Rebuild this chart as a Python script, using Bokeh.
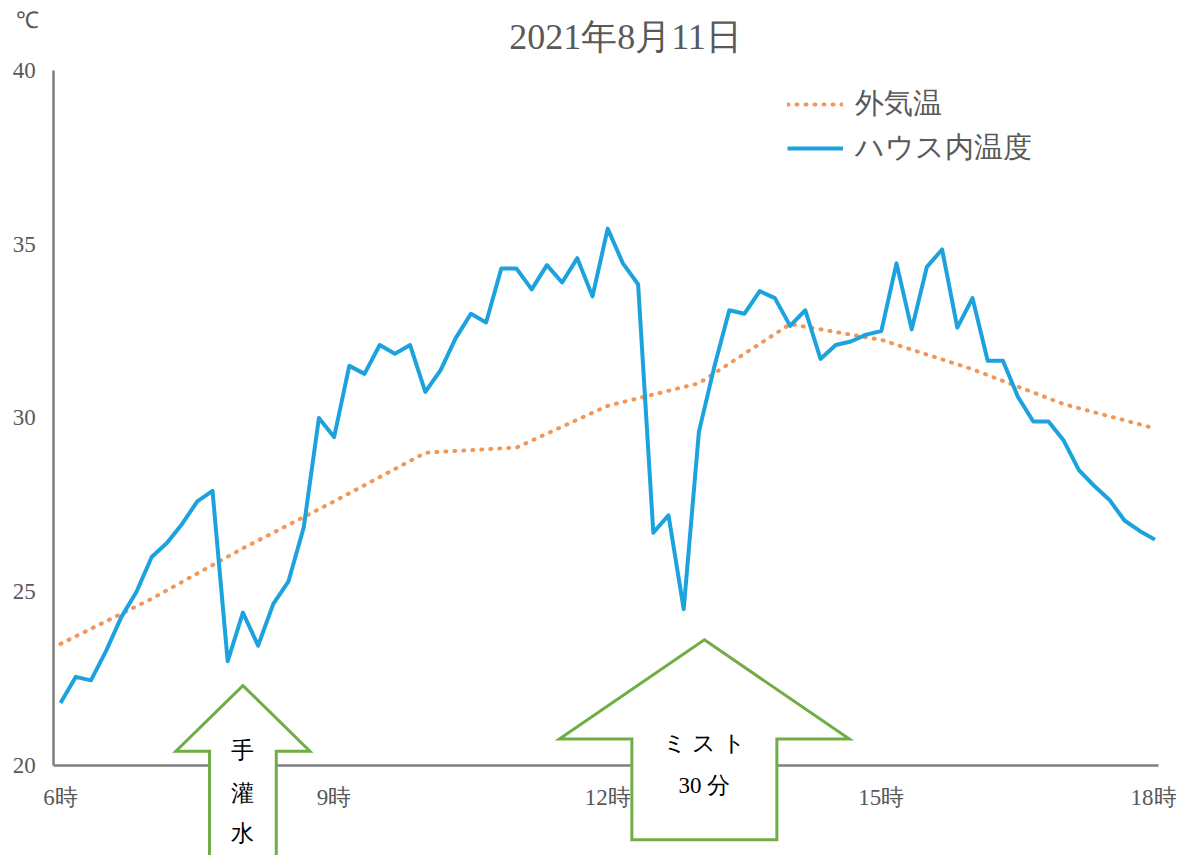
from bokeh.plotting import figure
from bokeh.models import Range1d, Legend, LegendItem, Label, FixedTicker
from bokeh.embed import file_html
from bokeh.resources import INLINE
import numpy as np

# ---------------- data ----------------
title_text = "2021年8月11日"
unit_text = "℃"

# house-internal temperature, every 10 minutes from 6:00 to 18:00
house_temp = [
    21.8, 22.55, 22.45, 23.3, 24.27, 25.0, 26.0, 26.4, 26.95, 27.6, 27.9, 23.0,
    24.4, 23.45, 24.65, 25.3, 26.85, 30.0, 29.45, 31.5, 31.27, 32.1, 31.85, 32.1,
    30.75, 31.37, 32.3, 33.0, 32.75, 34.3, 34.3, 33.7, 34.4, 33.9, 34.6, 33.5,
    35.45, 34.45, 33.85, 26.7, 27.2, 24.5, 29.6, 31.45, 33.1, 33.0, 33.65, 33.45,
    32.65, 33.1, 31.7, 32.1, 32.2, 32.4, 32.5, 34.45, 32.55, 34.35, 34.85, 32.6,
    33.45, 31.65, 31.65, 30.6, 29.9, 29.9, 29.35, 28.5, 28.05, 27.65, 27.05, 26.75,
    26.5,
]
house_hours = list(6 + np.arange(len(house_temp)) * 10 / 60.0)

# outside temperature, hourly
outside_hours = [6, 7, 8, 9, 10, 11, 12, 13, 14, 15, 16, 17, 18]
outside_temp = [23.5, 24.8, 26.25, 27.6, 29.0, 29.15, 30.35, 31.0, 32.7, 32.25, 31.4, 30.4, 29.7]

series_names = ["外気温", "ハウス内温度"]

x_tick_hours = [6, 9, 12, 15, 18]
x_tick_labels = ["6時", "9時", "12時", "15時", "18時"]
y_ticks = [20, 25, 30, 35, 40]

# annotation arrows: (time pointed at, temperature at arrow tip, lines of text)
arrow_notes = [
    (8.0, 22.30, ["手", "灌", "水"]),
    (13.06, 23.62, ["ミ ス ト", "30 分"]),
]

# ---------------- styling ----------------
FONT = "Liberation Serif"
GRAY = "#595959"
AXIS_GRAY = "#7f7f7f"
BLUE = "#1ca3dd"
ORANGE = "#ed7d31"
GREEN = "#70ad47"

W, H = 1176, 855
p = figure(width=W, height=H,
           x_range=Range1d(5.3421, 18.2368), y_range=Range1d(17.410, 42.014),
           output_backend="svg", toolbar_location=None, min_border=0,
           outline_line_color=None, background_fill_color="white")
p.xgrid.visible = False
p.ygrid.visible = False

for ax in (p.xaxis[0], p.yaxis[0]):
    ax.major_tick_in = 0
    ax.major_tick_out = 0
    ax.minor_tick_in = 0
    ax.minor_tick_out = 0
    ax.axis_line_color = AXIS_GRAY
    ax.axis_line_width = 2.5
    ax.major_label_text_font = FONT
    ax.major_label_text_font_size = "23px"
    ax.major_label_text_color = GRAY

xa = p.xaxis[0]
xa.fixed_location = 20
xa.bounds = (5.925, 18.04)
xa.ticker = FixedTicker(ticks=x_tick_hours)
xa.major_label_overrides = {h: lab for h, lab in zip(x_tick_hours, x_tick_labels)}
xa.major_label_standoff = 20

ya = p.yaxis[0]
ya.fixed_location = 5.925
ya.bounds = (20, 40)
ya.ticker = FixedTicker(ticks=y_ticks)
ya.major_label_standoff = 18

r_out = p.line(outside_hours, outside_temp, line_color=ORANGE, line_width=4,
               line_dash="1 8", line_cap="round", line_alpha=0.8)
r_in = p.line(house_hours, house_temp, line_color=BLUE, line_width=4, line_join="round")

legend = Legend(items=[LegendItem(label=series_names[0], renderers=[r_out]),
                       LegendItem(label=series_names[1], renderers=[r_in])],
                location=(787, 687), orientation="vertical",
                background_fill_alpha=0, border_line_color=None,
                padding=0, margin=0, spacing=4,
                glyph_width=56, glyph_height=30, label_height=30,
                label_standoff=12, label_text_font=FONT,
                label_text_font_size="29px", label_text_color=GRAY)
p.add_layout(legend, "center")

# title and unit
p.add_layout(Label(x=625, y=H - 36, x_units="screen", y_units="screen", text=title_text,
                   text_font=FONT, text_font_size="36px", text_color=GRAY,
                   text_align="center", text_baseline="middle"))
p.add_layout(Label(x=27, y=H - 20, x_units="screen", y_units="screen", text=unit_text,
                   text_font=FONT, text_font_size="23px", text_color=GRAY,
                   text_align="center", text_baseline="middle"))

# arrows
arrow_shapes = [
    # (head half-width, shaft half-width, head height, bottom)
    (0.735, 0.366, 1.89, 17.0),
    (1.59, 0.795, 2.86, 17.862),
]
axs, ays = [], []
for (tx, ty, _), (hw, sw, hh, bot) in zip(arrow_notes, arrow_shapes):
    base = ty - hh
    axs.append([tx, tx + hw, tx + sw, tx + sw, tx - sw, tx - sw, tx - hw])
    ays.append([ty, base, base, bot, bot, base, base])
r_arr = p.patches(axs, ays, fill_color="white", line_color=GREEN, line_width=3,
                  line_join="miter")
r_arr.level = "overlay"

text_offsets = [
    [1.87, 3.11, 4.26],
    [2.99, 4.20],
]
for (tx, ty, lines), offs in zip(arrow_notes, text_offsets):
    for line, off in zip(lines, offs):
        p.add_layout(Label(x=tx, y=ty - off, text=line, text_font=FONT,
                           text_font_size="23px", text_color="black",
                           text_align="center", text_baseline="middle",
                           level="overlay"))

open("out.html", "w").write(file_html(p, INLINE))
